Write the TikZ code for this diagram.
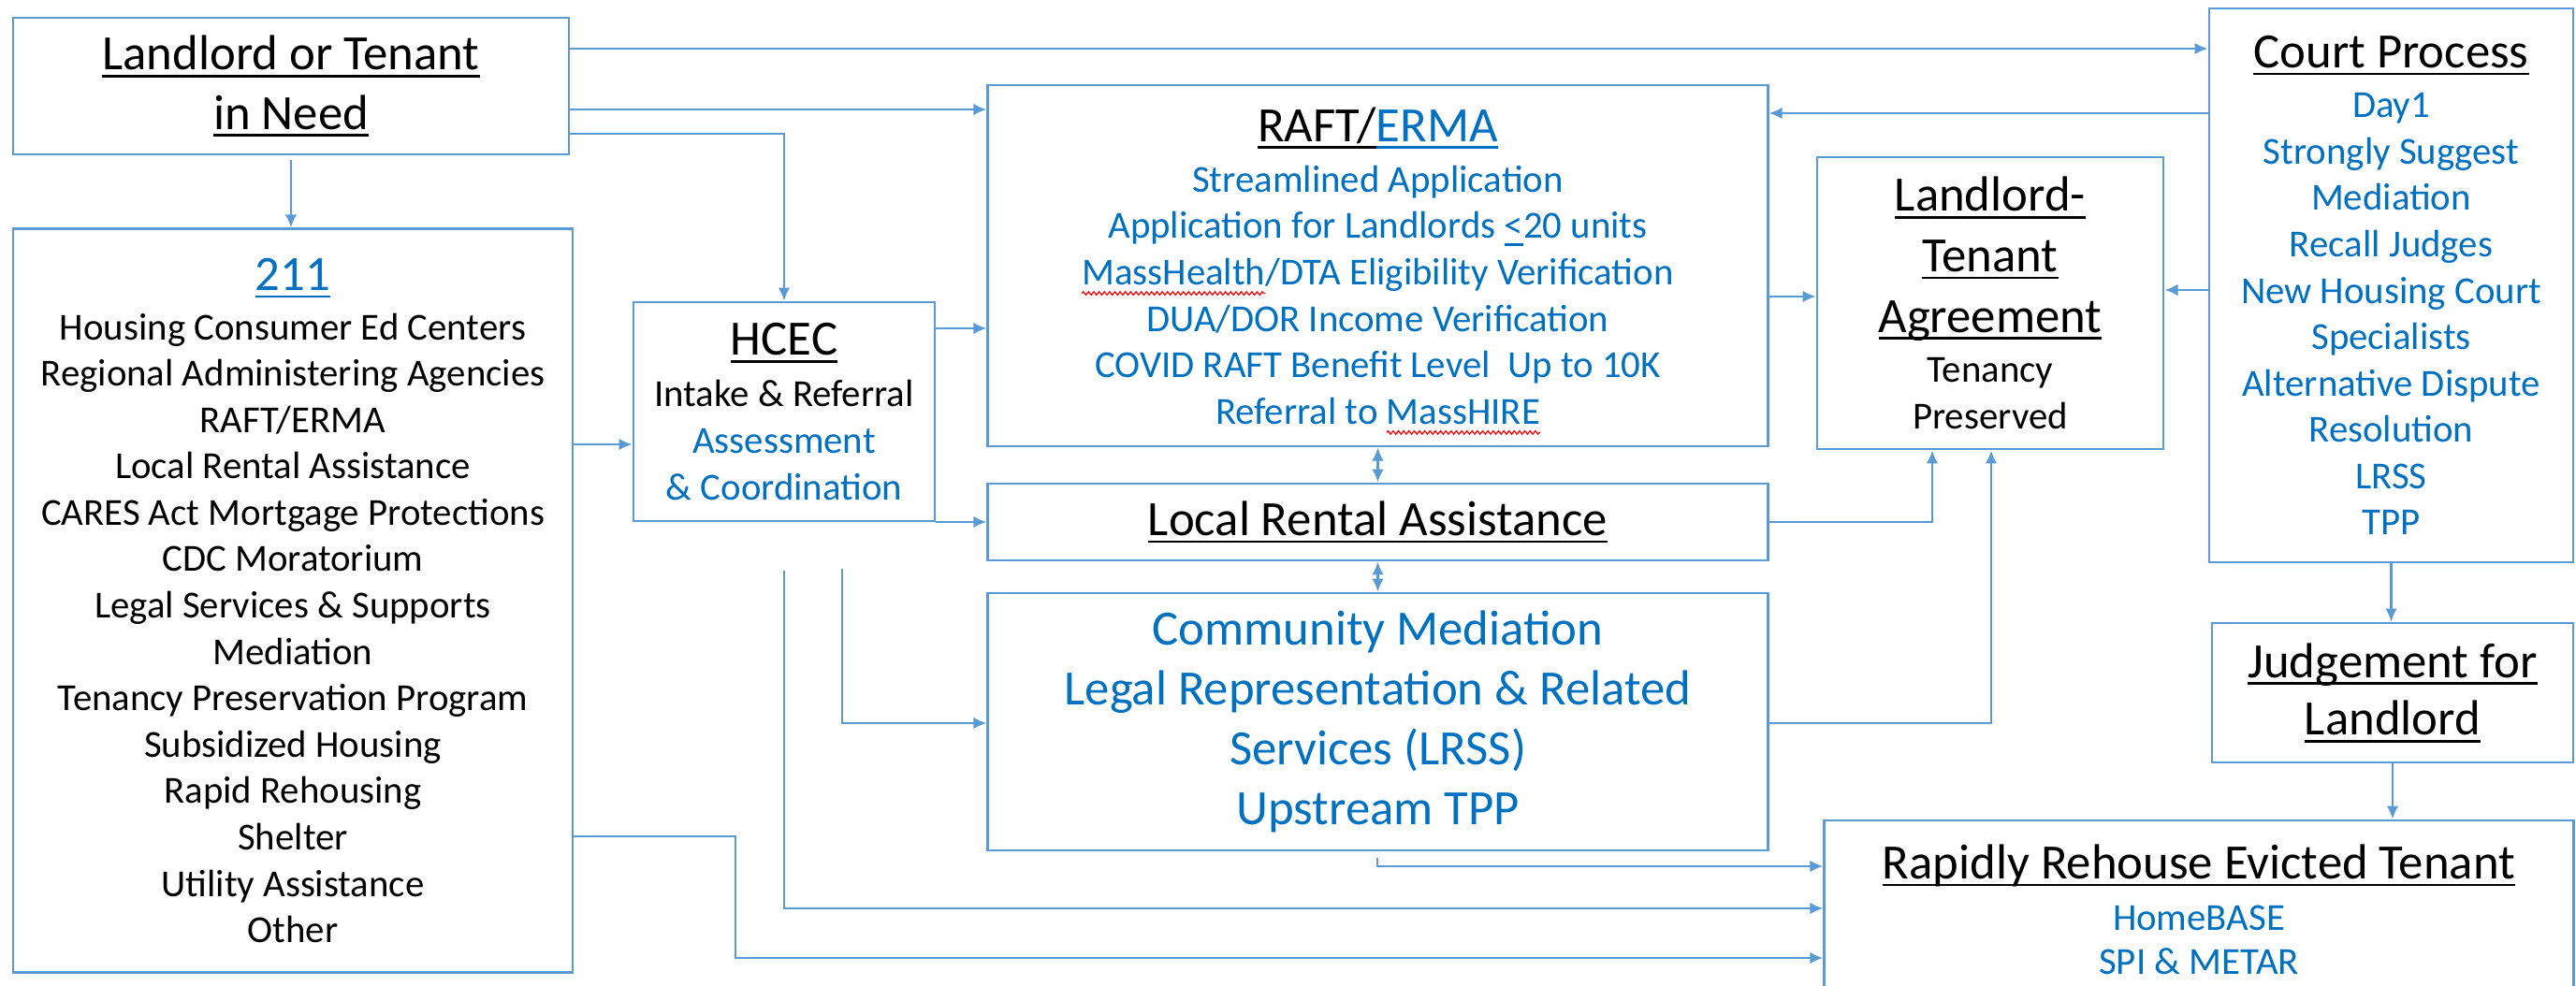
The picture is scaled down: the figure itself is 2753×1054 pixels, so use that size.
\documentclass[tikz,border=0pt]{standalone}
\usepackage{fontspec}
\setmainfont{Carlito}
\usetikzlibrary{arrows.meta,decorations.pathmorphing}
\definecolor{lineblue}{HTML}{5B9BD5}
\definecolor{txtblue}{HTML}{0070C0}
\newsavebox\ulbox
\newcommand\myul[1]{\sbox\ulbox{#1}\rlap{\rule[-2.2pt]{\wd\ulbox}{0.7pt}}\usebox\ulbox}
\newsavebox\sqbox
\newlength\sqlen
\newcommand\sqword[1]{\sbox\sqbox{#1}\setlength\sqlen{\wd\sqbox}\rlap{\tikz[overlay]\draw[red,line width=0.35pt,decorate,decoration={zigzag,amplitude=0.5pt,segment length=1.6pt}] (0pt,-2.6pt) -- (\sqlen,-2.6pt);}\usebox\sqbox}
\newcommand\bigf{\fontsize{15}{18.2}\selectfont}
\tikzset{
  box/.style={draw=lineblue, line width=0.75pt, rectangle, inner sep=0pt, align=center},
  arr/.style={draw=lineblue, line width=0.75pt, -{Latex[length=4pt,width=3.6pt]}},
  darr/.style={draw=lineblue, line width=0.75pt, {Latex[length=4pt,width=3.6pt]}-{Latex[length=4pt,width=3.6pt]}},
  bigtxt/.style={font=\fontsize{15}{18.2}\selectfont},
  smalltxt/.style={font=\fontsize{11.6}{14.1}\selectfont},
}
\begin{document}
\begin{tikzpicture}[x=0.01cm,y=-0.01cm]
\useasboundingbox (0,0) rectangle (2753,1054);
\clip (0,0) rectangle (2753,1054);
\fill[white] (0,0) rectangle (2753,1054);

% nodes
\node[box, font=\fontsize{15}{18}\selectfont, minimum width=5.94cm, minimum height=1.46cm] (LT) at (311,92)
  {\myul{Landlord or Tenant}\\\myul{in Need}};

\node[box, smalltxt, minimum width=5.98cm, minimum height=7.94cm] (S) at (313,642)
  {{\bigf\color{txtblue}\myul{211}}\\[0.9pt]
   Housing Consumer Ed Centers\\
   Regional Administering Agencies\\
   RAFT/ERMA\\
   Local Rental Assistance\\
   CARES Act Mortgage Protections\\
   CDC Moratorium\\
   Legal Services \& Supports\\
   Mediation\\
   Tenancy Preservation Program\\
   Subsidized Housing\\
   Rapid Rehousing\\
   Shelter\\
   Utility Assistance\\
   Other};

\node[box, smalltxt, minimum width=3.22cm, minimum height=2.34cm] (HCEC) at (838,440)
  {{\bigf\myul{HCEC}}\\[1.6pt]
   Intake \& Referral\\
   \textcolor{txtblue}{Assessment}\\
   \textcolor{txtblue}{\& Coordination}};

\node[box, smalltxt, text=txtblue, minimum width=8.33cm, minimum height=3.86cm] (RAFT) at (1472.5,284)
  {{\bigf\textcolor{black}{\myul{RAFT/}}\myul{ERMA}}\\[1.3pt]
   Streamlined Application\\
   Application for Landlords \myul{\textless}20 units\\
   \sqword{MassHealth}/DTA Eligibility Verification\\
   DUA/DOR Income Verification\\
   COVID RAFT Benefit Level~ Up to 10K\\
   Referral to \sqword{MassHIRE}};

\node[box, bigtxt, minimum width=8.33cm, minimum height=0.82cm] (LRA) at (1472.5,558)
  {\myul{Local Rental Assistance}};

\node[box, bigtxt, text=txtblue, minimum width=8.33cm, minimum height=2.75cm] (COM) at (1472.5,771.5)
  {Community Mediation\\
   Legal Representation \& Related\\
   Services (LRSS)\\
   Upstream TPP};

\node[box, smalltxt, minimum width=3.70cm, minimum height=3.12cm] (AGR) at (2127,324)
  {{\bigf\myul{Landlord-}}\\[4.3pt]
   {\bigf\myul{Tenant}}\\[4.3pt]
   {\bigf\myul{Agreement}}\\[1.2pt]
   Tenancy\\
   Preserved};

\node[box, smalltxt, text=txtblue, minimum width=3.89cm, minimum height=5.92cm] (COURT) at (2555.5,305)
  {{\bigf\textcolor{black}{\myul{Court Process}}}\\[1.1pt]
   Day1\\
   Strongly Suggest\\
   Mediation\\
   Recall Judges\\
   New Housing Court\\
   Specialists\\
   Alternative Dispute\\
   Resolution\\
   LRSS\\
   TPP};

\node[box, font=\fontsize{15}{17.6}\selectfont, minimum width=3.86cm, minimum height=1.49cm] (JUD) at (2557,740.5)
  {\myul{Judgement for}\\\myul{Landlord}};

\node[box, font=\fontsize{11.6}{13.4}\selectfont, text=txtblue, minimum width=8.00cm, minimum height=1.91cm] (RR) at (2350,972.5)
  {{\bigf\textcolor{black}{\myul{Rapidly Rehouse Evicted Tenant}}}\\[2.2pt]
   HomeBASE\\
   SPI \& METAR};

% free ends
\coordinate (f1) at (838,610);
\coordinate (f2) at (900,608);
\coordinate (f3) at (1472,917);
\coordinate (b1) at (786,894);

% connectors
\draw[arr] (LT.east |- 0,52) -- (COURT.west |- 0,52);
\draw[arr] (LT.east |- 0,117) -- (RAFT.west |- 0,117);
\draw[arr] (LT.east |- 0,143) -| (HCEC.north);
\draw[arr, shorten <=1.4pt] (LT.south) -- (LT.south |- S.north);
\draw[arr] (S.east |- 0,475) -- (HCEC.west |- 0,475);
\draw[arr] (S.east |- b1) -- (b1) |- (RR.west |- 0,1024);
\draw[arr] (HCEC.east |- 0,351) -- (RAFT.west |- 0,351);
\draw[arr] (HCEC.east |- LRA.west) -- (LRA.west);
\draw[arr] (f1) |- (RR.west |- 0,971);
\draw[arr] (f2) |- (COM.west |- 0,773);
\draw[arr] (f3) |- (RR.west |- 0,926);
\draw[darr] (RAFT.south) -- (LRA.north);
\draw[darr] (LRA.south) -- (COM.north);
\draw[arr] (RAFT.east |- 0,317) -- (AGR.west |- 0,317);
\draw[arr] (COURT.west |- 0,121) -- (RAFT.east |- 0,121);
\draw[arr] (COURT.west |- 0,310) -- (AGR.east |- 0,310);
\draw[arr] (LRA.east) -| (AGR.south -| 2065,0);
\draw[arr] (COM.east |- 0,773) -| (AGR.south -| 2128,0);
\draw[arr] (COURT.south) -- (COURT.south |- JUD.north);
\draw[arr] (JUD.south) -- (JUD.south |- RR.north);
\end{tikzpicture}
\end{document}
